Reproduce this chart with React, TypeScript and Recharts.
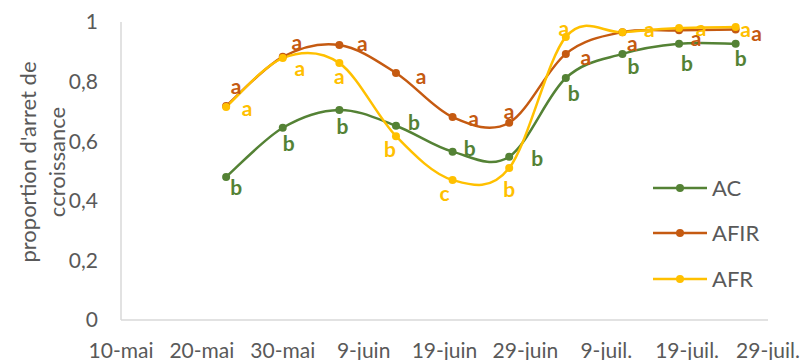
import React from "react";
import { LineChart, Line, XAxis, YAxis, LabelList } from "recharts";

// days since 10-mai for each observation
const obsDays = [13, 20, 27, 34, 41, 48, 55, 62, 69, 76];
const acValues = [0.48, 0.645, 0.705, 0.652, 0.565, 0.548, 0.812, 0.893, 0.927, 0.927];
const afirValues = [0.718, 0.883, 0.923, 0.829, 0.681, 0.662, 0.893, 0.966, 0.972, 0.975];
const afrValues = [0.715, 0.879, 0.862, 0.617, 0.47, 0.51, 0.95, 0.966, 0.98, 0.983];
const acLetters = ["b", "b", "b", "b", "b", "b", "b", "b", "b", "b"];
const afirLetters = ["a", "a", "a", "a", "a", "a", "a", "a", "a", "a"];
const afrLetters = ["a", "a", "a", "b", "c", "b", "a", "a", "a", "a"];
const xTickDays = [0, 10, 20, 30, 40, 50, 60, 70, 80];
const xTickLabels = ["10-mai", "20-mai", "30-mai", "9-juin", "19-juin", "29-juin", "9-juil.", "19-juil.", "29-juil."];
const yTicks = [0, 0.2, 0.4, 0.6, 0.8, 1];

// label placement (style): offsets from each point
const acOffsets = [[10, 10], [6, 15], [3, 16], [18, -4], [17, -4], [28, 1], [8, 14], [11, 12], [8, 19], [5, 14]];
const afirOffsets = [[10, -21], [14, -15], [23, -2], [25, 3], [21, 0], [0, -12], [20, 3], [10, 10], [17, 7], [21, 3]];
const afrOffsets = [[21, 1], [17, 9], [0, 12], [-6, 12], [-8, 13], [0, 20], [-2, -9], [27, -4], [22, 0], [10, 1]];

const C_AC = "#548235";
const C_AFIR = "#C55A11";
const C_AFR = "#FFC000";
const TXT = "#595959";

const data = obsDays.map((d, i) => ({
  day: d,
  AC: acValues[i],
  AFIR: afirValues[i],
  AFR: afrValues[i],
  acL: acLetters[i],
  afirL: afirLetters[i],
  afrL: afrLetters[i],
}));

// Excel-like smoothing (uniform Catmull-Rom as cubic Bezier)
const excelSmooth: any = (context: any) => {
  let pts: number[][] = [];
  return {
    areaStart() {},
    areaEnd() {},
    lineStart() {
      pts = [];
    },
    point(x: number, y: number) {
      pts.push([+x, +y]);
    },
    lineEnd() {
      const n = pts.length;
      if (!n) return;
      context.moveTo(pts[0][0], pts[0][1]);
      for (let i = 0; i < n - 1; i++) {
        const p0 = pts[i - 1] || pts[i];
        const p1 = pts[i];
        const p2 = pts[i + 1];
        const p3 = pts[i + 2] || pts[i + 1];
        context.bezierCurveTo(
          p1[0] + (p2[0] - p0[0]) / 6,
          p1[1] + (p2[1] - p0[1]) / 6,
          p2[0] - (p3[0] - p1[0]) / 6,
          p2[1] - (p3[1] - p1[1]) / 6,
          p2[0],
          p2[1]
        );
      }
    },
  };
};

const makeLabel = (color: string, offsets: number[][]) => (props: any) => {
  const x = props.x ?? props.viewBox?.x;
  const y = props.y ?? props.viewBox?.y;
  const i = props.index ?? 0;
  const off = offsets[i] || [0, 0];
  return (
    <text
      x={x + off[0]}
      y={y + off[1]}
      fill={color}
      fontSize={21}
      fontWeight="bold"
      textAnchor="middle"
      dominantBaseline="central"
    >
      {props.value}
    </text>
  );
};

const YTitle = (props: any) => {
  const vb = props.viewBox || { x: 0, y: 22, width: 121, height: 298 };
  const cy = vb.y + vb.height / 2 - 9;
  return (
    <g>
      <text
        x={27}
        y={cy}
        transform={`rotate(-90, 27, ${cy})`}
        textAnchor="middle"
        dominantBaseline="central"
        fill={TXT}
        fontSize={22}
      >
        proportion d'arret de
      </text>
      <text
        x={56}
        y={cy}
        transform={`rotate(-90, 56, ${cy})`}
        textAnchor="middle"
        dominantBaseline="central"
        fill={TXT}
        fontSize={22}
      >
        ccroissance
      </text>
    </g>
  );
};

const legendItems = [
  { name: "AC", color: C_AC },
  { name: "AFIR", color: C_AFIR },
  { name: "AFR", color: C_AFR },
];

export default function App() {
  return (
    <div style={{ position: "absolute", left: 0, top: 0, width: 803, height: 360, background: "#fff", fontFamily: "Lato" }}>
      <LineChart width={803} height={360} data={data} margin={{ top: 22, right: 35, bottom: 0, left: 0 }}>
        <XAxis
          type="number"
          dataKey="day"
          domain={[0, 80]}
          ticks={xTickDays}
          tickFormatter={(v: number) => xTickLabels[xTickDays.indexOf(v)] ?? ""}
          axisLine={{ stroke: "#D9D9D9", strokeWidth: 1.5 }}
          tickLine={false}
          tickSize={0}
          tickMargin={23}
          height={40}
          interval={0}
          tick={{ fill: TXT, fontSize: 21 }}
        />
        <YAxis
          domain={[0, 1]}
          ticks={yTicks}
          tickFormatter={(v: number) => String(v).replace(".", ",")}
          axisLine={{ stroke: "#D9D9D9", strokeWidth: 1.5 }}
          tickLine={false}
          tickSize={0}
          tickMargin={23}
          width={121}
          tick={{ fill: TXT, fontSize: 21 }}
          label={{ content: YTitle }}
        />
        <Line
          dataKey="AC"
          name="AC"
          type={excelSmooth}
          stroke={C_AC}
          strokeWidth={2.5}
          dot={{ r: 4, fill: C_AC, stroke: C_AC, strokeWidth: 0 }}
          isAnimationActive={false}
        >
          <LabelList dataKey="acL" content={makeLabel(C_AC, acOffsets)} />
        </Line>
        <Line
          dataKey="AFIR"
          name="AFIR"
          type={excelSmooth}
          stroke={C_AFIR}
          strokeWidth={2.5}
          dot={{ r: 4, fill: C_AFIR, stroke: C_AFIR, strokeWidth: 0 }}
          isAnimationActive={false}
        >
          <LabelList dataKey="afirL" content={makeLabel(C_AFIR, afirOffsets)} />
        </Line>
        <Line
          dataKey="AFR"
          name="AFR"
          type={excelSmooth}
          stroke={C_AFR}
          strokeWidth={2.5}
          dot={{ r: 4, fill: C_AFR, stroke: C_AFR, strokeWidth: 0 }}
          isAnimationActive={false}
        >
          <LabelList dataKey="afrL" content={makeLabel(C_AFR, afrOffsets)} />
        </Line>
      </LineChart>
      <div style={{ position: "absolute", left: 653, top: 165, display: "flex", flexDirection: "column" }}>
        {legendItems.map((it) => (
          <div key={it.name} style={{ display: "flex", alignItems: "center", height: 45.5 }}>
            <svg width={54} height={12} style={{ display: "block" }}>
              <line x1={0} y1={6} x2={54} y2={6} stroke={it.color} strokeWidth={2.5} />
              <circle cx={27} cy={6} r={4} fill={it.color} />
            </svg>
            <span style={{ marginLeft: 5, color: TXT, fontSize: 22, fontFamily: "Lato", lineHeight: "22px" }}>
              {it.name}
            </span>
          </div>
        ))}
      </div>
    </div>
  );
}
